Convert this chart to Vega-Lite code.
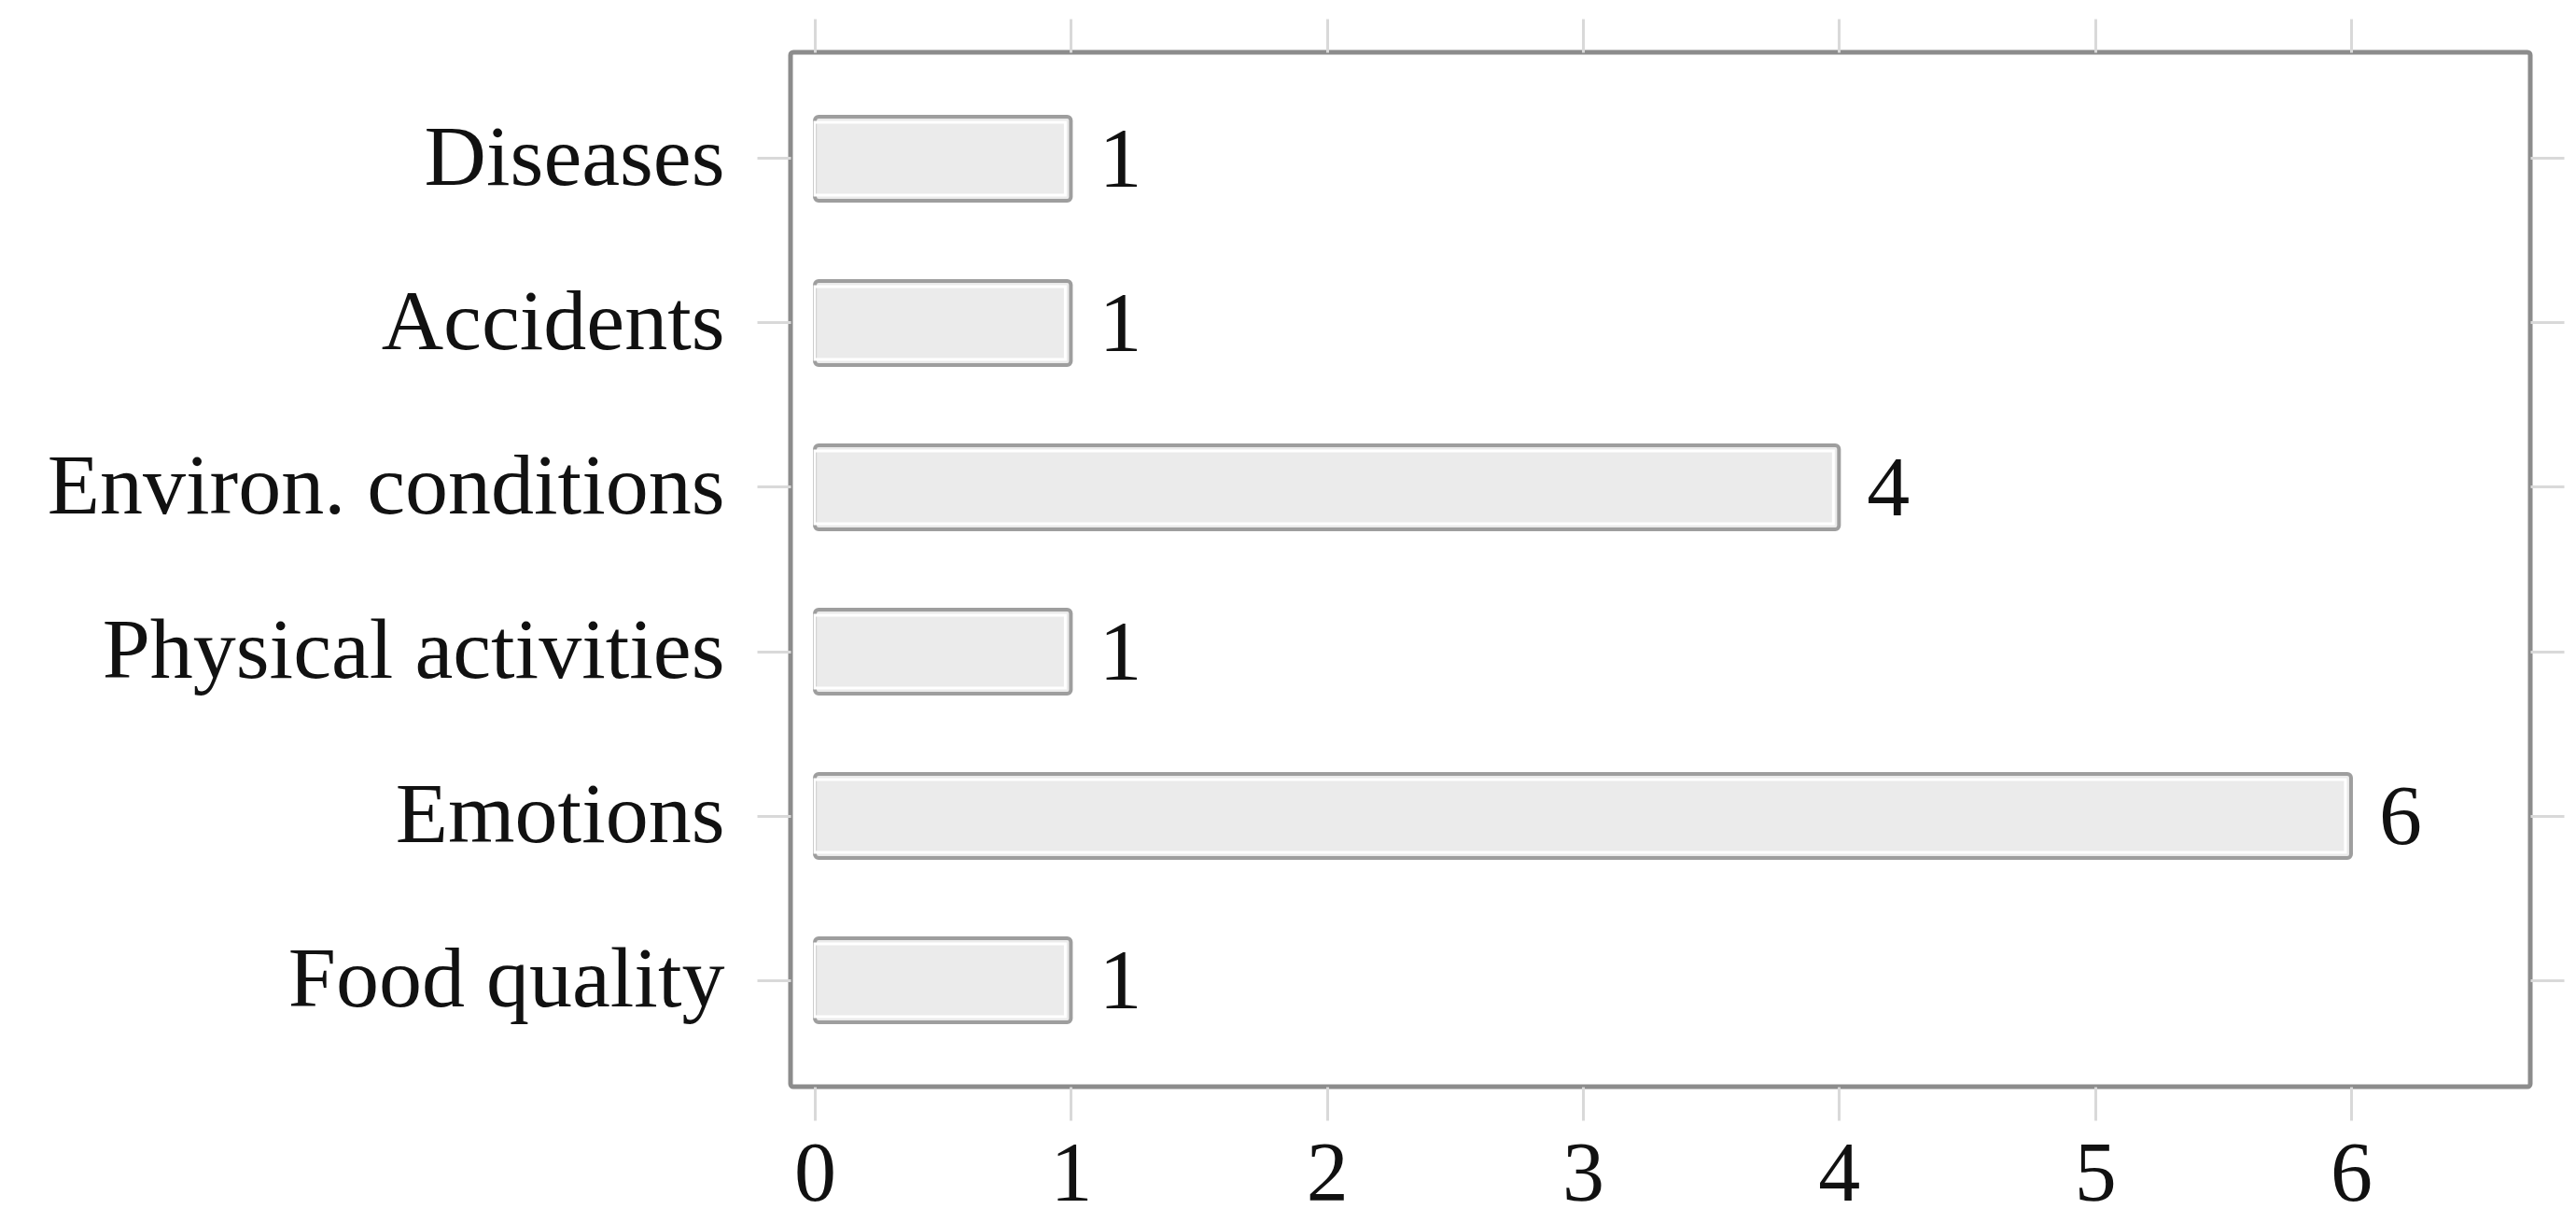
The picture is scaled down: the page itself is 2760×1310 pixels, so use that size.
{
  "$schema": "https://vega.github.io/schema/vega-lite/v6.json",
  "autosize": {"type": "none"},
  "padding": {"left": 847, "top": 56, "right": 49, "bottom": 146},
  "width": 1864,
  "height": 1108,
  "background": "white",
  "config": {
    "view": {"stroke": "#8c8c8c", "strokeWidth": 5, "cornerRadius": 3},
    "font": "Liberation Serif",
    "axis": {
      "domain": false,
      "grid": false,
      "tickColor": "#d9d9d9",
      "tickWidth": 3,
      "tickSize": 36,
      "labelFont": "Liberation Serif",
      "labelFontSize": 90,
      "labelColor": "#111111",
      "labelPadding": 35,
      "title": null
    }
  },
  "data": {
    "values": [
      {"category": "Diseases", "value": 1},
      {"category": "Accidents", "value": 1},
      {"category": "Environ. conditions", "value": 4},
      {"category": "Physical activities", "value": 1},
      {"category": "Emotions", "value": 6},
      {"category": "Food quality", "value": 1}
    ]
  },
  "resolve": {"axis": {"x": "independent", "y": "independent"}},
  "layer": [
    {
      "mark": {"type": "bar", "fill": "#ebebeb", "stroke": "#9e9e9e", "strokeWidth": 4, "cornerRadius": 4},
      "encoding": {
        "y": {
          "field": "category", "type": "nominal",
          "sort": ["Diseases", "Accidents", "Environ. conditions", "Physical activities", "Emotions", "Food quality"],
          "scale": {"paddingInner": 0.489, "paddingOuter": 0.392},
          "axis": {"orient": "left", "labelLimit": 0, "labelFontSize": 92}
        },
        "x": {
          "field": "value", "type": "quantitative", "stack": null,
          "scale": {"domain": [-0.095, 6.7], "nice": false, "zero": false},
          "axis": {"orient": "bottom", "values": [0, 1, 2, 3, 4, 5, 6], "format": "d", "labelPadding": 14}
        }
      }
    },
    {
      "mark": {"type": "bar", "fillOpacity": 0, "stroke": "#ffffff", "strokeWidth": 3, "size": 78, "xOffset": -6, "x2Offset": 6},
      "encoding": {
        "y": {
          "field": "category", "type": "nominal",
          "sort": ["Diseases", "Accidents", "Environ. conditions", "Physical activities", "Emotions", "Food quality"],
          "axis": {"orient": "right", "labels": false}
        },
        "x": {
          "field": "value", "type": "quantitative", "stack": null,
          "axis": {"orient": "top", "labels": false, "values": [0, 1, 2, 3, 4, 5, 6]}
        }
      }
    },
    {
      "mark": {"type": "text", "align": "left", "baseline": "middle", "dx": 30, "dy": 2, "fontSize": 92, "font": "Liberation Serif", "color": "#111111"},
      "encoding": {
        "y": {
          "field": "category", "type": "nominal",
          "sort": ["Diseases", "Accidents", "Environ. conditions", "Physical activities", "Emotions", "Food quality"],
          "axis": null
        },
        "x": {"field": "value", "type": "quantitative", "stack": null, "axis": null},
        "text": {"field": "value", "type": "quantitative"}
      }
    }
  ]
}
